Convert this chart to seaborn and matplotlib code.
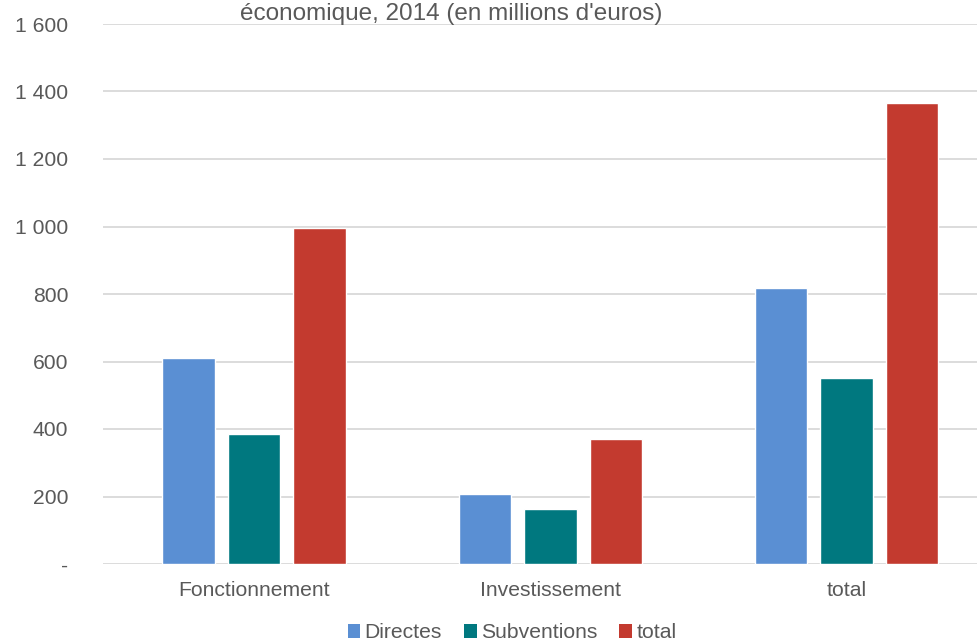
import matplotlib
matplotlib.use("Agg")
import matplotlib.pyplot as plt
import matplotlib.ticker as mticker
from matplotlib.patches import Patch
import seaborn as sns
import pandas as pd

categories = ["Fonctionnement", "Investissement", "total"]
series = ["Directes", "Subventions", "total"]
directes = [610, 207, 817]
subventions = [385, 163, 550]
totals = [995, 370, 1367]
yticks = [0, 200, 400, 600, 800, 1000, 1200, 1400, 1600]
title = "économique, 2014 (en millions d'euros)"
colors = ["#5A8FD3", "#00787F", "#C33A2F"]

rows = []
for name, vals in zip(series, [directes, subventions, totals]):
    for c, v in zip(categories, vals):
        rows.append({"cat": c, "serie": name, "val": v})
df = pd.DataFrame(rows)

sns.set_theme(style="white")
plt.rcParams["font.family"] = ["Liberation Sans", "DejaVu Sans"]
grey = "#595959"

fig = plt.figure(figsize=(9.77, 6.44), dpi=100)
ax = fig.add_axes([103 / 977, 1 - 564 / 644, 1 - 103 / 977, (564 - 24) / 644])

sns.barplot(data=df, x="cat", y="val", hue="serie", order=categories,
            hue_order=series, palette=colors, width=0.663, gap=0.2,
            saturation=1, ax=ax, legend=False, errorbar=None, zorder=3)

ax.set_xlim(-0.51, 2.44)
ax.set_ylim(0, 1600)
ax.set_yticks(yticks)
ax.yaxis.set_major_formatter(mticker.FuncFormatter(
    lambda v, p: "-" if v == 0 else f"{int(v):,}".replace(",", " ")))
ax.grid(axis="y", color="#D9D9D9", linewidth=1.3, zorder=0)
ax.grid(axis="x", visible=False)
for s in ax.spines.values():
    s.set_visible(False)
ax.set_xlabel("")
ax.set_ylabel("")
ax.tick_params(axis="y", length=0, pad=25, labelsize=15.2, labelcolor=grey)
ax.tick_params(axis="x", length=0, pad=12, labelsize=15.2, labelcolor=grey)
ax.set_axisbelow(True)

fig.text(451 / 977, 1 - 20 / 644, title, ha="center", va="baseline",
         fontsize=17.5, color=grey)

handles = [Patch(facecolor=c, edgecolor="none") for c in colors]
fig.legend(handles, series, loc="center", bbox_to_anchor=(512 / 977, 1 - 633 / 644),
           ncol=3, frameon=False, handlelength=0.6, handleheight=0.6,
           handletextpad=0.2, columnspacing=1.05, fontsize=15.2,
           labelcolor=grey, borderaxespad=0, borderpad=0)

fig.savefig("out.png", dpi=100)
